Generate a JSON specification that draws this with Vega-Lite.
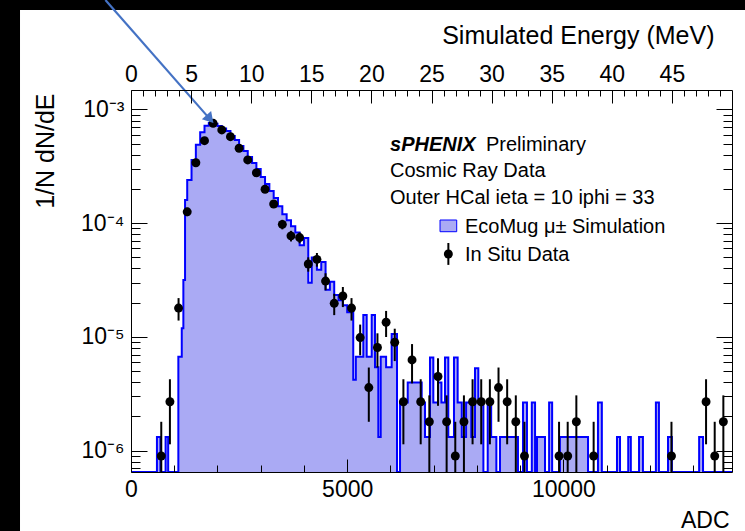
{
  "$schema": "https://vega.github.io/schema/vega-lite/v6.json",
  "width": 601,
  "height": 382,
  "autosize": {"type": "none"},
  "padding": {"left": 131, "top": 90, "right": 13, "bottom": 59},
  "background": "black",
  "datasets": {
    "sim": [
      {"adc": 0, "v": 0}, {"adc": 600, "v": 1.32e-6}, {"adc": 680, "v": 0}, {"adc": 800, "v": 1.32e-6}, {"adc": 860, "v": 0},
      {"adc": 1095, "v": 6.7e-6}, {"adc": 1174, "v": 1.19e-5}, {"adc": 1211, "v": 3.16e-5}, {"adc": 1250, "v": 1.6e-4},
      {"adc": 1300, "v": 2.4e-4}, {"adc": 1400, "v": 3.6e-4}, {"adc": 1500, "v": 4.9e-4}, {"adc": 1600, "v": 6.3e-4},
      {"adc": 1700, "v": 7.2e-4}, {"adc": 1800, "v": 7.6e-4}, {"adc": 1900, "v": 7.5e-4}, {"adc": 2000, "v": 7.16e-4},
      {"adc": 2100, "v": 6.8e-4}, {"adc": 2200, "v": 6.47e-4}, {"adc": 2300, "v": 5.85e-4}, {"adc": 2400, "v": 5.39e-4},
      {"adc": 2500, "v": 4.77e-4}, {"adc": 2600, "v": 4.32e-4}, {"adc": 2700, "v": 3.82e-4}, {"adc": 2800, "v": 3.38e-4},
      {"adc": 2900, "v": 3.0e-4}, {"adc": 3000, "v": 2.55e-4}, {"adc": 3100, "v": 2.21e-4}, {"adc": 3200, "v": 1.92e-4},
      {"adc": 3300, "v": 1.67e-4}, {"adc": 3400, "v": 1.41e-4}, {"adc": 3500, "v": 1.2e-4}, {"adc": 3600, "v": 1.06e-4},
      {"adc": 3700, "v": 9.4e-5}, {"adc": 3800, "v": 8.3e-5}, {"adc": 3900, "v": 6.4e-5}, {"adc": 4000, "v": 7.4e-5},
      {"adc": 4100, "v": 3.0e-5}, {"adc": 4180, "v": 5.0e-5}, {"adc": 4300, "v": 3.9e-5}, {"adc": 4400, "v": 4.56e-5},
      {"adc": 4500, "v": 2.6e-5}, {"adc": 4600, "v": 3.05e-5}, {"adc": 4700, "v": 2.34e-5}, {"adc": 4800, "v": 2.1e-5},
      {"adc": 4900, "v": 1.9e-5}, {"adc": 5000, "v": 1.65e-5}, {"adc": 5140, "v": 4.2e-6}, {"adc": 5200, "v": 6.7e-6},
      {"adc": 5373, "v": 1.56e-5}, {"adc": 5451, "v": 6.7e-6}, {"adc": 5567, "v": 1.56e-5}, {"adc": 5643, "v": 5.4e-6},
      {"adc": 5720, "v": 1.32e-6}, {"adc": 5775, "v": 6.7e-6}, {"adc": 5900, "v": 5.4e-6}, {"adc": 6029, "v": 1.06e-5},
      {"adc": 6152, "v": 0}, {"adc": 6222, "v": 2.65e-6}, {"adc": 6400, "v": 3.97e-6}, {"adc": 6607, "v": 3.97e-6},
      {"adc": 6723, "v": 2.65e-6}, {"adc": 6800, "v": 1.32e-6}, {"adc": 6915, "v": 6.6e-6}, {"adc": 6992, "v": 2.65e-6},
      {"adc": 7100, "v": 3.97e-6}, {"adc": 7180, "v": 2.65e-6}, {"adc": 7262, "v": 6.6e-6}, {"adc": 7339, "v": 1.32e-6},
      {"adc": 7470, "v": 6.6e-6}, {"adc": 7555, "v": 2.65e-6}, {"adc": 7650, "v": 1.32e-6}, {"adc": 7750, "v": 2.65e-6},
      {"adc": 7870, "v": 1.32e-6}, {"adc": 7956, "v": 5.3e-6}, {"adc": 8033, "v": 2.65e-6}, {"adc": 8150, "v": 0},
      {"adc": 8250, "v": 2.65e-6}, {"adc": 8330, "v": 1.32e-6}, {"adc": 8450, "v": 0}, {"adc": 8534, "v": 1.32e-6},
      {"adc": 8950, "v": 0}, {"adc": 9066, "v": 2.65e-6}, {"adc": 9158, "v": 0}, {"adc": 9270, "v": 2.65e-6},
      {"adc": 9345, "v": 0}, {"adc": 9390, "v": 1.32e-6}, {"adc": 9575, "v": 0}, {"adc": 9670, "v": 2.65e-6},
      {"adc": 9740, "v": 0}, {"adc": 9920, "v": 1.32e-6}, {"adc": 10570, "v": 0}, {"adc": 10800, "v": 2.65e-6},
      {"adc": 10890, "v": 0}, {"adc": 11240, "v": 1.32e-6}, {"adc": 11310, "v": 0}, {"adc": 11500, "v": 1.32e-6},
      {"adc": 11560, "v": 0}, {"adc": 11750, "v": 1.32e-6}, {"adc": 11840, "v": 0}, {"adc": 12140, "v": 2.65e-6},
      {"adc": 12210, "v": 0}, {"adc": 12420, "v": 1.32e-6}, {"adc": 12510, "v": 0}, {"adc": 13140, "v": 1.32e-6},
      {"adc": 13230, "v": 0}, {"adc": 13900, "v": 0}
    ],
    "pts": [
      {"adc": 700, "v": 8.97e-7, "hi": 1.794e-6, "lo": 0},
      {"adc": 900, "v": 2.691e-6, "hi": 4.245e-6, "lo": 1.137e-6},
      {"adc": 1100, "v": 1.794e-5, "hi": 2.195e-5, "lo": 1.393e-5},
      {"adc": 1300, "v": 1.26e-4, "hi": 1.366e-4, "lo": 1.154e-4},
      {"adc": 1500, "v": 3.40e-4, "hi": 3.575e-4, "lo": 3.225e-4},
      {"adc": 1700, "v": 5.32e-4, "hi": 5.54e-4, "lo": 5.10e-4},
      {"adc": 1900, "v": 7.56e-4, "hi": 7.82e-4, "lo": 7.30e-4},
      {"adc": 2100, "v": 6.61e-4, "hi": 6.853e-4, "lo": 6.367e-4},
      {"adc": 2300, "v": 5.77e-4, "hi": 5.997e-4, "lo": 5.543e-4},
      {"adc": 2500, "v": 4.56e-4, "hi": 4.762e-4, "lo": 4.358e-4},
      {"adc": 2700, "v": 3.60e-4, "hi": 3.78e-4, "lo": 3.42e-4},
      {"adc": 2900, "v": 2.78e-4, "hi": 2.938e-4, "lo": 2.622e-4},
      {"adc": 3100, "v": 1.99e-4, "hi": 2.124e-4, "lo": 1.856e-4},
      {"adc": 3300, "v": 1.475e-4, "hi": 1.59e-4, "lo": 1.36e-4},
      {"adc": 3500, "v": 9.77e-5, "hi": 1.071e-4, "lo": 8.83e-5},
      {"adc": 3700, "v": 7.74e-5, "hi": 8.57e-5, "lo": 6.91e-5},
      {"adc": 3900, "v": 7.48e-5, "hi": 8.30e-5, "lo": 6.66e-5},
      {"adc": 4100, "v": 4.38e-5, "hi": 5.01e-5, "lo": 3.75e-5},
      {"adc": 4300, "v": 4.81e-5, "hi": 5.47e-5, "lo": 4.15e-5},
      {"adc": 4500, "v": 3.10e-5, "hi": 3.63e-5, "lo": 2.57e-5},
      {"adc": 4700, "v": 1.975e-5, "hi": 2.395e-5, "lo": 1.555e-5},
      {"adc": 4900, "v": 2.29e-5, "hi": 2.75e-5, "lo": 1.83e-5},
      {"adc": 5100, "v": 1.794e-5, "hi": 2.195e-5, "lo": 1.393e-5},
      {"adc": 5300, "v": 9.87e-6, "hi": 1.284e-5, "lo": 6.89e-6},
      {"adc": 5500, "v": 3.588e-6, "hi": 5.382e-6, "lo": 1.794e-6},
      {"adc": 5700, "v": 8.07e-6, "hi": 1.076e-5, "lo": 5.38e-6},
      {"adc": 5900, "v": 1.3455e-5, "hi": 1.693e-5, "lo": 9.98e-6},
      {"adc": 6100, "v": 8.97e-6, "hi": 1.181e-5, "lo": 6.13e-6},
      {"adc": 6300, "v": 2.691e-6, "hi": 4.245e-6, "lo": 1.137e-6},
      {"adc": 6500, "v": 6.279e-6, "hi": 8.652e-6, "lo": 3.906e-6},
      {"adc": 6700, "v": 2.691e-6, "hi": 4.245e-6, "lo": 1.137e-6},
      {"adc": 6900, "v": 1.794e-6, "hi": 3.063e-6, "lo": 5.25e-7},
      {"adc": 7100, "v": 4.485e-6, "hi": 6.491e-6, "lo": 2.479e-6},
      {"adc": 7300, "v": 1.794e-6, "hi": 3.063e-6, "lo": 5.25e-7},
      {"adc": 7500, "v": 8.97e-7, "hi": 1.794e-6, "lo": 0},
      {"adc": 7700, "v": 1.794e-6, "hi": 3.063e-6, "lo": 5.25e-7},
      {"adc": 7900, "v": 2.691e-6, "hi": 4.245e-6, "lo": 1.137e-6},
      {"adc": 8100, "v": 2.691e-6, "hi": 4.245e-6, "lo": 1.137e-6},
      {"adc": 8300, "v": 2.691e-6, "hi": 4.245e-6, "lo": 1.137e-6},
      {"adc": 8500, "v": 3.588e-6, "hi": 5.382e-6, "lo": 1.794e-6},
      {"adc": 8700, "v": 2.691e-6, "hi": 4.245e-6, "lo": 1.137e-6},
      {"adc": 8900, "v": 1.794e-6, "hi": 3.063e-6, "lo": 5.25e-7},
      {"adc": 9100, "v": 8.97e-7, "hi": 1.794e-6, "lo": 0},
      {"adc": 9900, "v": 8.97e-7, "hi": 1.794e-6, "lo": 0},
      {"adc": 10100, "v": 8.97e-7, "hi": 1.794e-6, "lo": 0},
      {"adc": 10300, "v": 1.794e-6, "hi": 3.063e-6, "lo": 5.25e-7},
      {"adc": 10700, "v": 8.97e-7, "hi": 1.794e-6, "lo": 0},
      {"adc": 12500, "v": 8.97e-7, "hi": 1.794e-6, "lo": 0},
      {"adc": 13300, "v": 2.691e-6, "hi": 4.245e-6, "lo": 1.137e-6},
      {"adc": 13500, "v": 8.97e-7, "hi": 1.794e-6, "lo": 0},
      {"adc": 13700, "v": 1.794e-6, "hi": 3.063e-6, "lo": 5.25e-7}
    ]
  },
  "config": {
    "view": {"stroke": null},
    "axis": {
      "labelFont": "Liberation Sans", "titleFont": "Liberation Sans",
      "labelFontSize": 23, "titleFontSize": 23, "titleFontWeight": "normal",
      "labelColor": "#000", "titleColor": "#000", "tickColor": "#000", "domainColor": "#000",
      "domainWidth": 1, "tickWidth": 1, "grid": false,
      "labelFlush": false, "labelOverlap": false
    },
    "text": {"font": "Liberation Sans", "fontSize": 20, "color": "#000", "align": "left", "baseline": "alphabetic"}
  },
  "resolve": {
    "scale": {"x": "independent", "y": "independent"},
    "axis": {"x": "independent", "y": "independent"}
  },
  "layer": [
    {
      "data": {"values": [{}]},
      "mark": {"type": "rect", "fill": "white"},
      "encoding": {
        "x": {"datum": -2567, "type": "quantitative", "scale": {"domain": [0, 13900]}, "axis": null},
        "x2": {"datum": 14201},
        "y": {"datum": 0.0075, "type": "quantitative", "scale": {"type": "log", "domain": [6.49e-7, 1.484e-3]}, "axis": null},
        "y2": {"datum": 1.96e-7}
      }
    },
    {
      "data": {"name": "sim"},
      "mark": {"type": "area", "interpolate": "step-after", "fill": "#aaaaf4", "clip": true},
      "encoding": {
        "x": {"field": "adc", "type": "quantitative", "scale": {"domain": [0, 13900]},
          "axis": {"zindex": 2, "orient": "bottom", "values": [0, 5000, 10000], "format": "d", "tickSize": -13, "labelPadding": 19,
            "title": "ADC", "titleAlign": "right", "titleBaseline": "alphabetic", "titleX": 598, "titleY": 55}},
        "y": {"field": "v", "type": "quantitative", "scale": {"type": "log", "domain": [6.49e-7, 1.484e-3], "clamp": true},
          "axis": {"zindex": 2, "orient": "left", "values": [1e-6, 1e-5, 1e-4, 1e-3], "tickSize": -16, "labelPadding": 23,
            "labelExpr": "'10' + ['⁰','⁻¹','⁻²','⁻³','⁻⁴','⁻⁵','⁻⁶','⁻⁷'][round(-log(datum.value)/LN10)]",
            "title": "1/N dN/dE", "titleFontSize": 25, "titleAngle": 270, "titleAlign": "right", "titleBaseline": "alphabetic", "titleX": -78, "titleY": 3}}
      }
    },
    {
      "data": {"name": "sim"},
      "mark": {"type": "line", "interpolate": "step-after", "stroke": "#0000ff", "strokeWidth": 2, "clip": true},
      "encoding": {
        "x": {"field": "adc", "type": "quantitative", "scale": {"domain": [0, 13900]},
          "axis": {"zindex": 2, "orient": "bottom", "values": [1000, 2000, 3000, 4000, 6000, 7000, 8000, 9000, 11000, 12000, 13000], "tickSize": -7, "labels": false, "domain": false, "title": null}},
        "y": {"field": "v", "type": "quantitative", "scale": {"type": "log", "domain": [6.49e-7, 1.484e-3], "clamp": true},
          "axis": {"zindex": 2, "orient": "left", "values": [7e-7, 8e-7, 9e-7, 2e-6, 3e-6, 4e-6, 5e-6, 6e-6, 7e-6, 8e-6, 9e-6, 2e-5, 3e-5, 4e-5, 5e-5, 6e-5, 7e-5, 8e-5, 9e-5, 2e-4, 3e-4, 4e-4, 5e-4, 6e-4, 7e-4, 8e-4, 9e-4], "tickSize": -9, "labels": false, "domain": false, "title": null}}
      }
    },
    {
      "data": {"name": "pts"},
      "mark": {"type": "rule", "color": "#000", "strokeWidth": 2, "clip": true},
      "encoding": {
        "x": {"field": "adc", "type": "quantitative", "scale": {"domain": [0, 13900]}, "axis": null},
        "y": {"field": "hi", "type": "quantitative", "scale": {"type": "log", "domain": [6.49e-7, 1.484e-3], "clamp": true},
          "axis": {"zindex": 2, "orient": "right", "values": [1e-6, 1e-5, 1e-4, 1e-3], "tickSize": -16, "labels": false, "title": null}},
        "y2": {"field": "lo"}
      }
    },
    {
      "data": {"name": "pts"},
      "mark": {"type": "point", "filled": true, "color": "#000", "size": 80, "opacity": 1},
      "encoding": {
        "x": {"field": "adc", "type": "quantitative", "scale": {"domain": [0, 13900]}, "axis": null},
        "y": {"field": "v", "type": "quantitative", "scale": {"type": "log", "domain": [6.49e-7, 1.484e-3]},
          "axis": {"zindex": 2, "orient": "right", "values": [7e-7, 8e-7, 9e-7, 2e-6, 3e-6, 4e-6, 5e-6, 6e-6, 7e-6, 8e-6, 9e-6, 2e-5, 3e-5, 4e-5, 5e-5, 6e-5, 7e-5, 8e-5, 9e-5, 2e-4, 3e-4, 4e-4, 5e-4, 6e-4, 7e-4, 8e-4, 9e-4], "tickSize": -9, "labels": false, "domain": false, "title": null}}
      }
    },
    {
      "data": {"values": [{}]},
      "mark": {"type": "text", "text": "sPHENIX", "fontWeight": "bold", "fontStyle": "italic"},
      "encoding": {
        "x": {"datum": 21.55, "type": "quantitative", "scale": {"domain": [0, 50]},
          "axis": {"zindex": 2, "orient": "top", "values": [0, 5, 10, 15, 20, 25, 30, 35, 40, 45], "tickSize": -13, "labelPadding": 17,
            "title": "Simulated Energy (MeV)", "titleAlign": "right", "titleBaseline": "alphabetic", "titleX": 583, "titleY": -47, "titleFontSize": 25}},
        "y": {"datum": 4.315e-4, "type": "quantitative", "scale": {"type": "log", "domain": [6.49e-7, 1.484e-3]}, "axis": null}
      }
    },
    {
      "data": {"values": [{}]},
      "mark": {"type": "text", "text": "Preliminary"},
      "encoding": {
        "x": {"datum": 29.53, "type": "quantitative", "scale": {"domain": [0, 50]},
          "axis": {"zindex": 2, "orient": "top", "values": [1, 2, 3, 4, 6, 7, 8, 9, 11, 12, 13, 14, 16, 17, 18, 19, 21, 22, 23, 24, 26, 27, 28, 29, 31, 32, 33, 34, 36, 37, 38, 39, 41, 42, 43, 44, 46, 47, 48, 49], "tickSize": -6, "labels": false, "domain": false, "title": null}},
        "y": {"datum": 4.315e-4, "type": "quantitative", "scale": {"type": "log", "domain": [6.49e-7, 1.484e-3]}, "axis": null}
      }
    },
    {
      "data": {"values": [{}]},
      "mark": {"type": "text", "text": "Cosmic Ray Data"},
      "encoding": {
        "x": {"datum": 5990, "type": "quantitative", "scale": {"domain": [0, 13900]}, "axis": null},
        "y": {"datum": 2.548e-4, "type": "quantitative", "scale": {"type": "log", "domain": [6.49e-7, 1.484e-3]}, "axis": null}
      }
    },
    {
      "data": {"values": [{}]},
      "mark": {"type": "text", "text": "Outer HCal ieta = 10 iphi = 33"},
      "encoding": {
        "x": {"datum": 5990, "type": "quantitative", "scale": {"domain": [0, 13900]}, "axis": null},
        "y": {"datum": 1.476e-4, "type": "quantitative", "scale": {"type": "log", "domain": [6.49e-7, 1.484e-3]}, "axis": null}
      }
    },
    {
      "data": {"values": [{}]},
      "mark": {"type": "rect", "fill": "#aaaaf4", "stroke": "#0000ff", "strokeWidth": 1},
      "encoding": {
        "x": {"datum": 7147, "type": "quantitative", "scale": {"domain": [0, 13900]}, "axis": null},
        "x2": {"datum": 7533},
        "y": {"datum": 1.067e-4, "type": "quantitative", "scale": {"type": "log", "domain": [6.49e-7, 1.484e-3]}, "axis": null},
        "y2": {"datum": 8.42e-5}
      }
    },
    {
      "data": {"values": [{}]},
      "mark": {"type": "text", "text": "EcoMug μ± Simulation"},
      "encoding": {
        "x": {"datum": 7724, "type": "quantitative", "scale": {"domain": [0, 13900]}, "axis": null},
        "y": {"datum": 8.2e-5, "type": "quantitative", "scale": {"type": "log", "domain": [6.49e-7, 1.484e-3]}, "axis": null}
      }
    },
    {
      "data": {"values": [{}]},
      "mark": {"type": "rule", "color": "#000", "strokeWidth": 2},
      "encoding": {
        "x": {"datum": 7340, "type": "quantitative", "scale": {"domain": [0, 13900]}, "axis": null},
        "y": {"datum": 6.7e-5, "type": "quantitative", "scale": {"type": "log", "domain": [6.49e-7, 1.484e-3]}, "axis": null},
        "y2": {"datum": 4.3e-5}
      }
    },
    {
      "data": {"values": [{}]},
      "mark": {"type": "point", "filled": true, "color": "#000", "size": 80, "opacity": 1},
      "encoding": {
        "x": {"datum": 7340, "type": "quantitative", "scale": {"domain": [0, 13900]}, "axis": null},
        "y": {"datum": 5.36e-5, "type": "quantitative", "scale": {"type": "log", "domain": [6.49e-7, 1.484e-3]}, "axis": null}
      }
    },
    {
      "data": {"values": [{}]},
      "mark": {"type": "text", "text": "In Situ Data"},
      "encoding": {
        "x": {"datum": 7724, "type": "quantitative", "scale": {"domain": [0, 13900]}, "axis": null},
        "y": {"datum": 4.65e-5, "type": "quantitative", "scale": {"type": "log", "domain": [6.49e-7, 1.484e-3]}, "axis": null}
      }
    },
    {
      "data": {"values": [{}]},
      "mark": {"type": "rule", "color": "#4472c4", "strokeWidth": 2.2},
      "encoding": {
        "x": {"datum": -592, "type": "quantitative", "scale": {"domain": [0, 13900]}, "axis": null},
        "x2": {"datum": 1826},
        "y": {"datum": 9.18e-3, "type": "quantitative", "scale": {"type": "log", "domain": [6.49e-7, 1.484e-3]}, "axis": null},
        "y2": {"datum": 8.23e-4}
      }
    },
    {
      "data": {"values": [{}]},
      "mark": {"type": "point", "shape": "triangle-up", "filled": true, "color": "#4472c4", "size": 150, "opacity": 1, "angle": 139},
      "encoding": {
        "x": {"datum": 1826, "type": "quantitative", "scale": {"domain": [0, 13900]}, "axis": null},
        "y": {"datum": 8.23e-4, "type": "quantitative", "scale": {"type": "log", "domain": [6.49e-7, 1.484e-3]}, "axis": null}
      }
    }
  ]
}
